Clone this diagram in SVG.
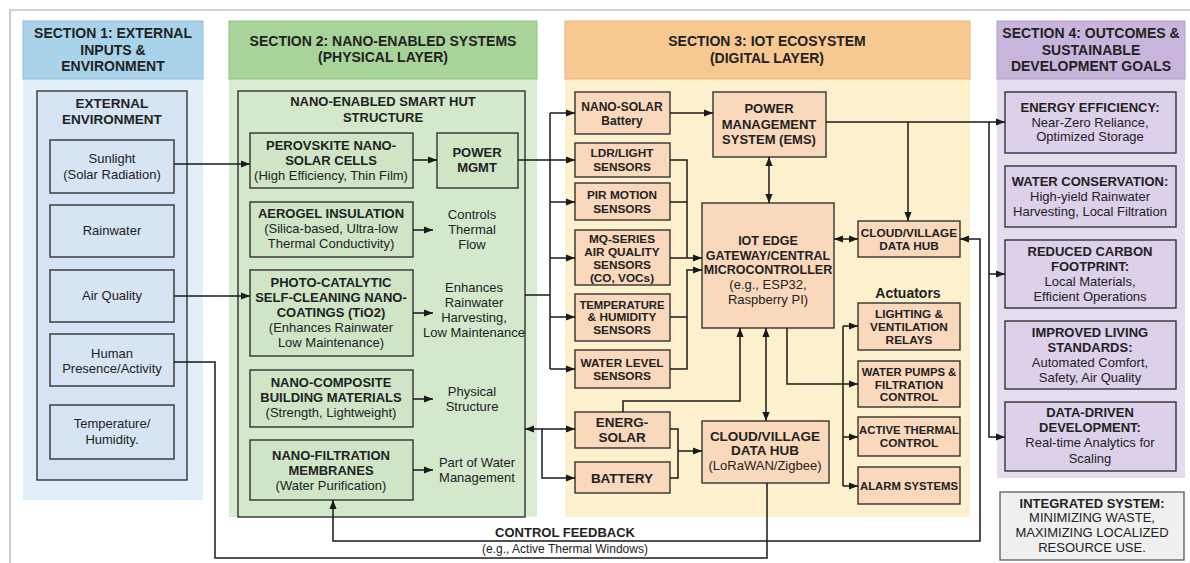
<svg xmlns="http://www.w3.org/2000/svg" width="1190" height="563" viewBox="0 0 1190 563">
<style>
text{font-family:"Liberation Sans",Arial,sans-serif;fill:#222;text-anchor:middle}
.h{font-size:14px;font-weight:bold}
.b{font-size:13px;font-weight:bold}
.g{font-size:12.5px;font-weight:bold}
.s{font-size:11.8px;font-weight:bold}
.n{font-size:13px}
.bx{stroke:#333;stroke-width:1.4}
.blue{fill:#d6e4f4}
.green{fill:#cfe5c6}
.peach{fill:#f9d8bb}
.purple{fill:#ddd0ea}
.con path{fill:none;stroke:#1a1a1a;stroke-width:1.5}
</style>
<defs>
<marker id="a" viewBox="0 0 10 10" refX="10" refY="5" markerWidth="9" markerHeight="9" markerUnits="userSpaceOnUse" orient="auto-start-reverse"><path d="M0,1 L10,5 L0,9 z" fill="#1a1a1a"/></marker>
</defs>
<rect width="1190" height="563" fill="#fff"/>
<path d="M10,563 V10 H1190" fill="none" stroke="#aaa" stroke-width="1.2"/>

<g id="section1">
<rect x="23" y="79" width="180" height="421" fill="#e0eff8"/>
<rect x="23" y="21" width="180" height="58" fill="#a9d3ea" stroke="#8fbfd8"/>
<text class="h" x="113" y="38">SECTION 1: EXTERNAL</text>
<text class="h" x="113" y="55">INPUTS &amp;</text>
<text class="h" x="113" y="71">ENVIRONMENT</text>
</g>
<g id="section2">
<rect x="229" y="79" width="308" height="438" fill="#d9ebd3"/>
<rect x="229" y="21" width="308" height="58" fill="#a8d49a" stroke="#90c282"/>
<text class="h" x="383" y="46">SECTION 2: NANO-ENABLED SYSTEMS</text>
<text class="h" x="383" y="62">(PHYSICAL LAYER)</text>
</g>
<g id="section3">
<rect x="565" y="79" width="405" height="438" fill="#fdf0cc"/>
<rect x="565" y="21" width="405" height="58" fill="#f8c891" stroke="#e9b47a"/>
<text class="h" x="767" y="46">SECTION 3: IOT ECOSYSTEM</text>
<text class="h" x="767" y="63">(DIGITAL LAYER)</text>
</g>
<g id="section4">
<rect x="997" y="79" width="188" height="399" fill="#e6dcef"/>
<rect x="997" y="21" width="188" height="58" fill="#c8b5dc" stroke="#b29ecb"/>
<text class="h" x="1091" y="38">SECTION 4: OUTCOMES &amp;</text>
<text class="h" x="1091" y="55">SUSTAINABLE</text>
<text class="h" x="1091" y="71">DEVELOPMENT GOALS</text>
</g>

<g id="external-environment">
<rect class="bx" x="37" y="91" width="150" height="389" fill="#d5e3f3"/>
<text class="b" x="112" y="108" style="font-size:13.5px">EXTERNAL</text>
<text class="b" x="112" y="124" style="font-size:13.5px">ENVIRONMENT</text>
</g>
<g id="sunlight"><rect class="bx blue" x="50" y="140" width="124" height="53"/>
<text class="n" x="112" y="163">Sunlight</text><text class="n" x="112" y="179">(Solar Radiation)</text></g>
<g id="rainwater"><rect class="bx blue" x="50" y="205" width="124" height="52"/>
<text class="n" x="112" y="235">Rainwater</text></g>
<g id="air-quality"><rect class="bx blue" x="50" y="270" width="124" height="52"/>
<text class="n" x="112" y="300">Air Quality</text></g>
<g id="human"><rect class="bx blue" x="50" y="334" width="124" height="52"/>
<text class="n" x="112" y="358">Human</text><text class="n" x="112" y="373">Presence/Activity</text></g>
<g id="temperature"><rect class="bx blue" x="50" y="405" width="124" height="54"/>
<text class="n" x="112" y="428">Temperature/</text><text class="n" x="112" y="444">Humidity.</text></g>

<g id="smart-hut">
<rect class="bx" x="238" y="91" width="287" height="426" fill="#d4e8cc"/>
<text class="b" x="383" y="106">NANO-ENABLED SMART HUT</text>
<text class="b" x="383" y="122">STRUCTURE</text>
</g>
<g id="perovskite"><rect class="bx green" x="250" y="133" width="163" height="55"/>
<text class="b" x="331" y="150">PEROVSKITE NANO-</text><text class="b" x="331" y="165">SOLAR CELLS</text>
<text class="n" x="331" y="180">(High Efficiency, Thin Film)</text></g>
<g id="power-mgmt"><rect class="bx green" x="437" y="133" width="81" height="55"/>
<text class="b" x="477" y="157">POWER</text><text class="b" x="477" y="172">MGMT</text></g>
<g id="aerogel"><rect class="bx green" x="250" y="202" width="163" height="55"/>
<text class="b" x="331" y="218">AEROGEL INSULATION</text>
<text class="n" x="331" y="233">(Silica-based, Ultra-low</text>
<text class="n" x="331" y="248">Thermal Conductivity)</text></g>
<g id="photocatalytic"><rect class="bx green" x="250" y="270" width="163" height="86"/>
<text class="b" x="331" y="287">PHOTO-CATALYTIC</text>
<text class="b" x="331" y="302">SELF-CLEANING NANO-</text>
<text class="b" x="331" y="317">COATINGS (TiO2)</text>
<text class="n" x="331" y="332">(Enhances Rainwater</text>
<text class="n" x="331" y="347">Low Maintenance)</text></g>
<g id="nano-composite"><rect class="bx green" x="250" y="370" width="163" height="57"/>
<text class="b" x="331" y="387">NANO-COMPOSITE</text>
<text class="b" x="331" y="402">BUILDING MATERIALS</text>
<text class="n" x="331" y="417">(Strength, Lightweight)</text></g>
<g id="nano-filtration"><rect class="bx green" x="250" y="440" width="163" height="60"/>
<text class="b" x="331" y="460">NANO-FILTRATION</text>
<text class="b" x="331" y="475">MEMBRANES</text>
<text class="n" x="331" y="490">(Water Purification)</text></g>
<g id="side-labels">
<text class="n" x="472" y="219">Controls</text><text class="n" x="472" y="234">Thermal</text><text class="n" x="472" y="249">Flow</text>
<text class="n" x="474" y="292">Enhances</text><text class="n" x="474" y="307">Rainwater</text><text class="n" x="474" y="322">Harvesting,</text><text class="n" x="474" y="337">Low Maintenance</text>
<text class="n" x="472" y="396">Physical</text><text class="n" x="472" y="411">Structure</text>
<text class="n" x="477" y="467">Part of Water</text><text class="n" x="477" y="482">Management</text>
</g>

<g id="nano-solar-battery"><rect class="bx peach" x="575" y="92" width="95" height="42"/>
<text class="s" x="622" y="111" style="font-size:12px">NANO-SOLAR</text><text class="s" x="622" y="125" style="font-size:12px">Battery</text></g>
<g id="ldr"><rect class="bx peach" x="575" y="143" width="95" height="34"/>
<text class="s" x="622" y="157">LDR/LIGHT</text><text class="s" x="622" y="171">SENSORS</text></g>
<g id="pir"><rect class="bx peach" x="575" y="183" width="95" height="37"/>
<text class="s" x="622" y="199">PIR MOTION</text><text class="s" x="622" y="213">SENSORS</text></g>
<g id="mq"><rect class="bx peach" x="575" y="230" width="95" height="55"/>
<text class="s" x="622" y="243">MQ-SERIES</text><text class="s" x="622" y="256">AIR QUALITY</text>
<text class="s" x="622" y="269">SENSORS</text><text class="s" x="622" y="282">(CO, VOCs)</text></g>
<g id="temp-hum"><rect class="bx peach" x="575" y="294" width="95" height="47"/>
<text class="s" x="622" y="309" style="font-size:11.3px">TEMPERATURE</text><text class="s" x="622" y="321">&amp; HUMIDITY</text><text class="s" x="622" y="334">SENSORS</text></g>
<g id="water-level"><rect class="bx peach" x="575" y="350" width="95" height="38"/>
<text class="s" x="622" y="367">WATER LEVEL</text><text class="s" x="622" y="380">SENSORS</text></g>
<g id="energ-solar"><rect class="bx peach" x="575" y="412" width="95" height="36"/>
<text class="b" x="622" y="427" style="font-size:13.5px">ENERG-</text><text class="b" x="622" y="442" style="font-size:13.5px">SOLAR</text></g>
<g id="battery"><rect class="bx peach" x="575" y="462" width="95" height="31"/>
<text class="b" x="622" y="483" style="font-size:13.5px">BATTERY</text></g>
<g id="ems"><rect class="bx peach" x="713" y="92" width="113" height="65"/>
<text class="b" x="769" y="113">POWER</text><text class="b" x="769" y="129">MANAGEMENT</text><text class="b" x="769" y="144">SYSTEM (EMS)</text></g>
<g id="gateway"><rect class="bx peach" x="702" y="203" width="132" height="125"/>
<text class="g" x="768" y="245">IOT EDGE</text><text class="g" x="768" y="260">GATEWAY/CENTRAL</text>
<text class="g" x="768" y="274">MICROCONTROLLER</text>
<text class="n" x="768" y="289">(e.g., ESP32,</text><text class="n" x="768" y="304">Raspberry PI)</text></g>
<g id="cloud-hub-upper"><rect class="bx peach" x="858" y="221" width="102" height="36"/>
<text class="s" x="909" y="237">CLOUD/VILLAGE</text><text class="s" x="909" y="250">DATA HUB</text></g>
<g id="actuators-label"><text x="908" y="298" style="font-size:14px;font-weight:bold">Actuators</text></g>
<g id="lighting"><rect class="bx peach" x="858" y="303" width="102" height="47"/>
<text class="s" x="909" y="318">LIGHTING &amp;</text><text class="s" x="909" y="331">VENTILATION</text><text class="s" x="909" y="344">RELAYS</text></g>
<g id="water-pumps"><rect class="bx peach" x="858" y="361" width="102" height="46"/>
<text class="s" x="909" y="376" style="font-size:11.3px">WATER PUMPS &amp;</text><text class="s" x="909" y="389">FILTRATION</text><text class="s" x="909" y="401">CONTROL</text></g>
<g id="active-thermal"><rect class="bx peach" x="858" y="417" width="102" height="39"/>
<text class="s" x="909" y="434" style="font-size:11.3px">ACTIVE THERMAL</text><text class="s" x="909" y="447">CONTROL</text></g>
<g id="alarm"><rect class="bx peach" x="858" y="467" width="102" height="37"/>
<text class="s" x="909" y="490" style="font-size:11.3px">ALARM SYSTEMS</text></g>
<g id="cloud-hub-lower"><rect class="bx peach" x="702" y="421" width="127" height="62"/>
<text class="b" x="765" y="441" style="font-size:13.5px">CLOUD/VILLAGE</text><text class="b" x="765" y="455" style="font-size:13.5px">DATA HUB</text>
<text class="n" x="765" y="470">(LoRaWAN/Zigbee)</text></g>

<g id="energy-efficiency"><rect class="bx purple" x="1005" y="92" width="171" height="61"/>
<text class="b" x="1090" y="112">ENERGY EFFICIENCY:</text>
<text class="n" x="1090" y="127">Near-Zero Reliance,</text>
<text class="n" x="1090" y="141">Optimized Storage</text></g>
<g id="water-conservation"><rect class="bx purple" x="1005" y="166" width="171" height="61"/>
<text class="b" x="1090" y="186">WATER CONSERVATION:</text>
<text class="n" x="1090" y="201">High-yield Rainwater</text>
<text class="n" x="1090" y="216">Harvesting, Local Filtration</text></g>
<g id="reduced-carbon"><rect class="bx purple" x="1005" y="240" width="171" height="68"/>
<text class="b" x="1090" y="256">REDUCED CARBON</text>
<text class="b" x="1090" y="271">FOOTPRINT:</text>
<text class="n" x="1090" y="286">Local Materials,</text>
<text class="n" x="1090" y="301">Efficient Operations</text></g>
<g id="improved-living"><rect class="bx purple" x="1005" y="321" width="171" height="68"/>
<text class="b" x="1090" y="337">IMPROVED LIVING</text>
<text class="b" x="1090" y="352">STANDARDS:</text>
<text class="n" x="1090" y="367">Automated Comfort,</text>
<text class="n" x="1090" y="382">Safety, Air Quality</text></g>
<g id="data-driven"><rect class="bx purple" x="1005" y="402" width="171" height="69"/>
<text class="b" x="1090" y="417">DATA-DRIVEN</text>
<text class="b" x="1090" y="432">DEVELOPMENT:</text>
<text class="n" x="1090" y="447">Real-time Analytics for</text>
<text class="n" x="1090" y="463">Scaling</text></g>
<g id="integrated"><rect x="1000" y="492" width="184" height="68" fill="#efefef" stroke="#666" stroke-width="1.4"/>
<text class="b" x="1092" y="508">INTEGRATED SYSTEM:</text>
<text class="n" x="1092" y="522">MINIMIZING WASTE,</text>
<text class="n" x="1092" y="537">MAXIMIZING LOCALIZED</text>
<text class="n" x="1092" y="552">RESOURCE USE.</text></g>

<g id="connectors" class="con">
<path d="M174,164 H250" marker-end="url(#a)"/>
<path d="M174,296 H250" marker-end="url(#a)"/>
<path d="M413,160 H437" marker-end="url(#a)"/>
<path d="M413,230 H433" marker-end="url(#a)"/>
<path d="M413,313 H433" marker-end="url(#a)"/>
<path d="M413,399 H433" marker-end="url(#a)"/>
<path d="M413,470 H433" marker-end="url(#a)"/>
<path d="M518,160 H575" marker-end="url(#a)"/>
<path d="M525,295 H550"/>
<path d="M550,113 V369"/>
<path d="M550,113 H575" marker-end="url(#a)"/>
<path d="M550,202 H575" marker-end="url(#a)"/>
<path d="M550,258 H575" marker-end="url(#a)"/>
<path d="M550,317 H575" marker-end="url(#a)"/>
<path d="M550,369 H575" marker-end="url(#a)"/>
<path d="M670,113 H713" marker-end="url(#a)"/>
<path d="M670,160 H687 V258"/>
<path d="M670,202 H687"/>
<path d="M670,258 H702" marker-end="url(#a)"/>
<path d="M670,369 H687 V270 H702" marker-end="url(#a)"/>
<path d="M670,317 H687"/>
<path d="M769,157 V203" marker-start="url(#a)" marker-end="url(#a)"/>
<path d="M826,122 H1005" marker-end="url(#a)"/>
<path d="M908,122 V221" marker-end="url(#a)"/>
<path d="M989,122 V437 H1005" marker-end="url(#a)"/>
<path d="M989,274 H1005" marker-end="url(#a)"/>
<path d="M834,239 H858" marker-start="url(#a)" marker-end="url(#a)"/>
<path d="M960,239 H980 V541 H333 V500" marker-start="url(#a)" marker-end="url(#a)"/>
<path d="M174,362 H215 V558 H767 V483"/>
<path d="M525,429 H575" marker-start="url(#a)" marker-end="url(#a)"/>
<path d="M542,429 V478 H575" marker-end="url(#a)"/>
<path d="M670,429 H678 V478 H670"/>
<path d="M678,451 H702" marker-end="url(#a)"/>
<path d="M623,412 V401 H740 V328" marker-end="url(#a)"/>
<path d="M766,328 V421" marker-start="url(#a)" marker-end="url(#a)"/>
<path d="M787,328 V384 H858" marker-end="url(#a)"/>
<path d="M843,326 V486"/>
<path d="M843,326 H858" marker-end="url(#a)"/>
<path d="M843,437 H858" marker-end="url(#a)"/>
<path d="M843,486 H858" marker-end="url(#a)"/>
</g>
<g id="feedback-label">
<text class="b" x="565" y="537">CONTROL FEEDBACK</text>
<text class="n" x="565" y="553" style="font-size:12px">(e.g., Active Thermal Windows)</text>
</g>
</svg>
